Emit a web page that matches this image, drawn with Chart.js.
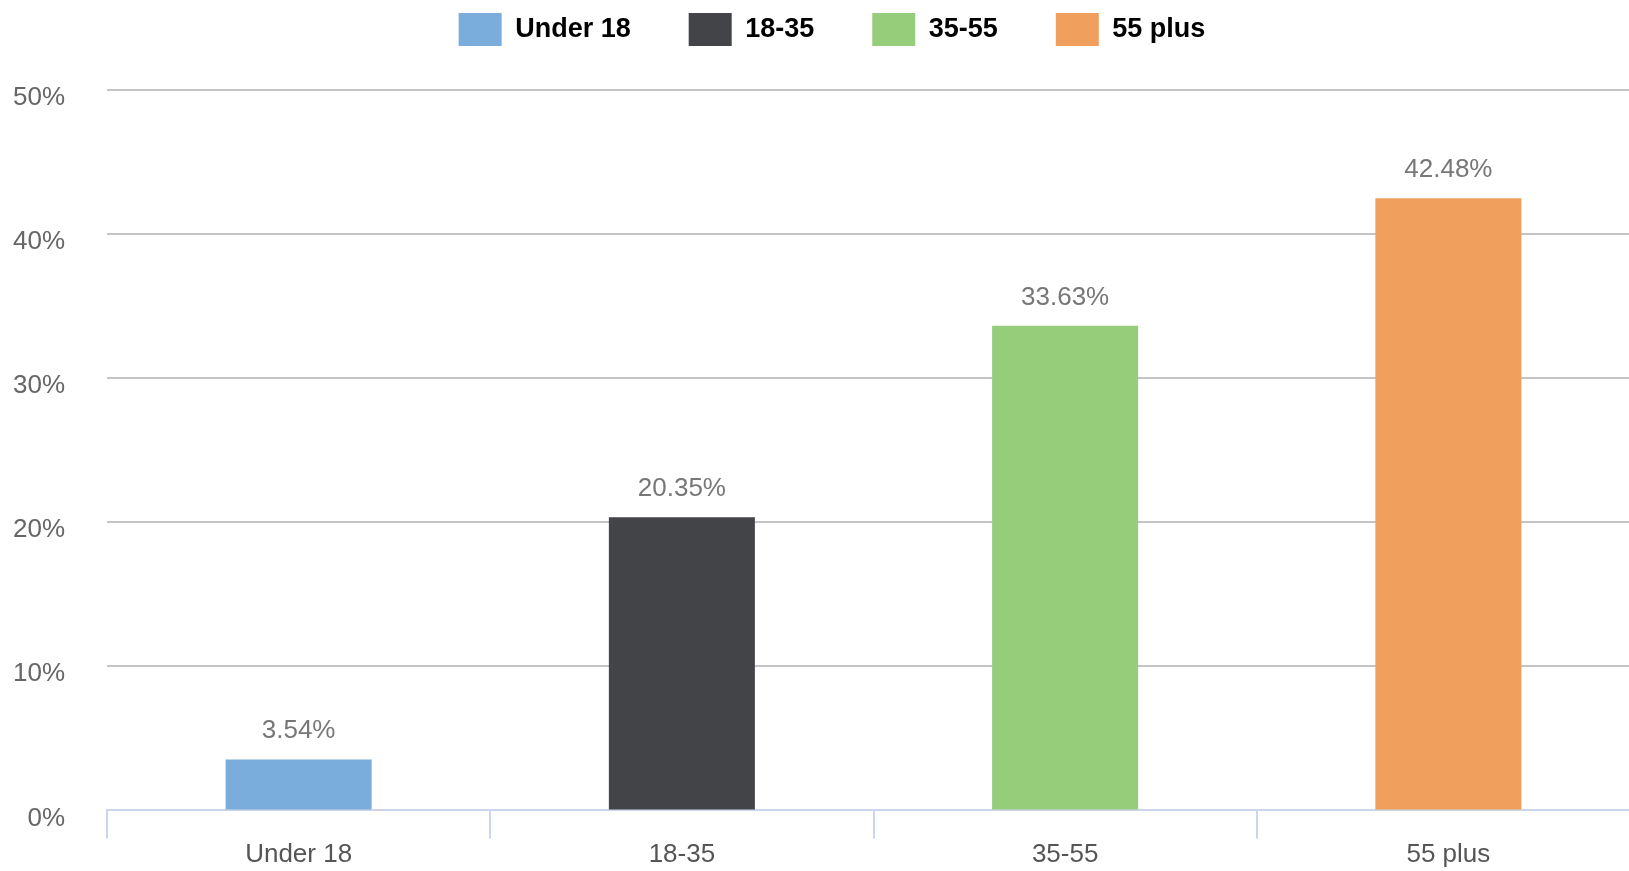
<!DOCTYPE html>
<html lang="en">

<head>
    <meta charset="UTF-8">
    <title>Age groups</title>
    <script src="https://cdn.jsdelivr.net/npm/chart.js"></script>
</head>

<body>
    <div class="chart-container"><canvas id="ageChart"></canvas></div>
</body>

</html>

<script>
    // age groups and their share in percent
    const categories = ["Under 18", "18-35", "35-55", "55 plus"];
    const shares = [3.54, 20.35, 33.63, 42.48];
    const barColors = ["#7aacdc", "#434448", "#96cd7a", "#f0a05c"];
    const yTicks = [0, 10, 20, 30, 40, 50];

    const fontFamily = "'Liberation Sans', Arial, sans-serif";

    // legend padding is also the gap between items, so the box height is cut back after fit
    // and the row is nudged a bit to the right
    const legendBox = {
        id: "legendBox",
        beforeInit(chart) {
            const fit = chart.legend.fit;
            chart.legend.fit = function () {
                fit.call(this);
                this.height = 135;
            };
        },
        afterLayout(chart) {
            chart.legend.left += 12;
            chart.legend.right += 12;
        }
    };

    // writes the value above each bar
    const valueLabels = {
        id: "valueLabels",
        afterDatasetsDraw(chart) {
            const ctx = chart.ctx;
            const meta = chart.getDatasetMeta(0);
            ctx.save();
            ctx.font = "26px " + fontFamily;
            ctx.fillStyle = "#777777";
            ctx.textAlign = "center";
            ctx.textBaseline = "alphabetic";
            meta.data.forEach((bar, i) => {
                ctx.fillText(shares[i].toFixed(2) + "%", bar.x, bar.y - 21);
            });
            ctx.restore();
        }
    };

    const ctx = document.getElementById("ageChart").getContext("2d");

    new Chart(ctx, {
        type: "bar",
        data: {
            labels: categories,
            datasets: [{
                data: shares,
                backgroundColor: barColors,
                borderWidth: 0,
                categoryPercentage: 1,
                barPercentage: 0.381
            }]
        },
        options: {
            responsive: true,
            maintainAspectRatio: false,
            animation: false,
            layout: { padding: { top: -45, left: 0, right: 0, bottom: 0 } },
            plugins: {
                legend: {
                    position: "top",
                    labels: {
                        boxWidth: 43,
                        boxHeight: 33,
                        padding: 58,
                        color: "#333333",
                        font: { family: fontFamily, size: 27, weight: "bold" },
                        generateLabels: () => categories.map((c, i) => ({
                            text: c,
                            fillStyle: barColors[i],
                            strokeStyle: barColors[i],
                            lineWidth: 0,
                            index: i
                        }))
                    },
                    onClick: () => {}
                },
                tooltip: { enabled: false }
            },
            scales: {
                x: {
                    grid: {
                        display: true,
                        drawOnChartArea: false,
                        drawTicks: true,
                        tickLength: 28,
                        color: "#ccd6eb",
                        lineWidth: 2
                    },
                    border: { display: true, color: "#ccd6eb", width: 2 },
                    ticks: {
                        color: "#555555",
                        padding: 2,
                        font: { family: fontFamily, size: 26, lineHeight: 1.1 }
                    }
                },
                y: {
                    min: 0,
                    max: 50,
                    afterBuildTicks: scale => {
                        scale.ticks = yTicks.map(v => ({ value: v }));
                    },
                    afterFit: scale => {
                        scale.width = 107;
                    },
                    grid: {
                        drawTicks: false,
                        lineWidth: 2,
                        color: c => c.tick && c.tick.value === 0 ? "#ccd6eb" : "#c4c4c4"
                    },
                    border: { display: false },
                    ticks: {
                        color: "#666666",
                        padding: 42,
                        labelOffset: 8,
                        font: { family: fontFamily, size: 26 },
                        callback: v => v + "%"
                    }
                }
            }
        },
        plugins: [legendBox, valueLabels]
    });
</script>

<style>
    html,
    body {
        margin: 0;
        padding: 0;
        overflow: hidden;
        background: #ffffff;
    }

    .chart-container {
        position: relative;
        width: 1640px;
        height: 871px;
    }
</style>
